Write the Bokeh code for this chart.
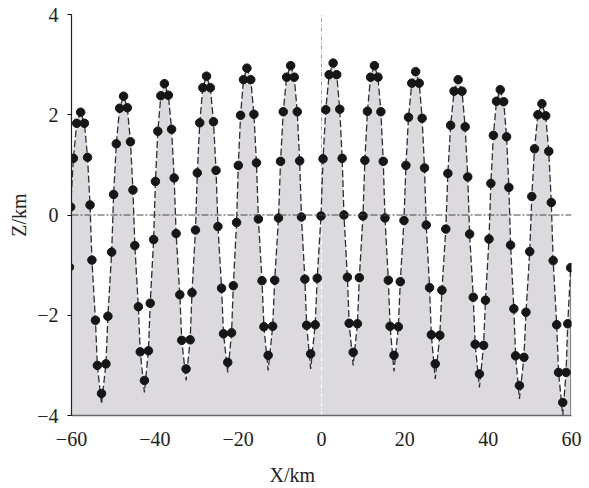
from bokeh.plotting import figure
from bokeh.models import FixedTicker, Span, Title
from bokeh.embed import file_html
from bokeh.resources import INLINE

# ---- data (X/km, Z/km) ----
peak_x = [-57.8, -47.5, -37.7, -27.6, -17.9, -7.4, 2.8, 12.7, 22.6, 32.8, 42.9, 52.9]
peak_z = [2.05, 2.37, 2.62, 2.77, 2.93, 2.98, 3.03, 2.98, 2.86, 2.70, 2.50, 2.22]

trough_x = [-52.8, -42.5, -32.5, -22.5, -12.8, -2.6, 7.6, 17.4, 27.3, 37.9, 47.5, 57.9]
trough_line_z = [-3.77, -3.54, -3.30, -3.14, -3.10, -3.07, -3.00, -3.12, -3.27, -3.44, -3.67, -4.00]
trough_dot_z = [-3.56, -3.30, -3.07, -2.94, -2.80, -2.77, -2.74, -2.80, -2.97, -3.17, -3.40, -3.74]

flank_x = [
    -60.5, -60.2, -59.55, -58.75,
    -56.9, -56.15, -55.55, -55.1, -54.25, -53.8,
    -51.74, -51.26, -50.36, -49.89, -49.25, -48.45,
    -46.6, -45.85, -45.25, -44.8, -43.95, -43.5,
    -41.54, -41.11, -40.29, -39.86, -39.28, -38.56,
    -36.76, -35.98, -35.36, -34.89, -34.01, -33.54,
    -31.52, -31.08, -30.25, -29.81, -29.22, -28.48,
    -26.68, -25.92, -25.31, -24.85, -23.98, -23.52,
    -21.58, -21.17, -20.38, -19.97, -19.42, -18.73,
    -16.98, -16.22, -15.61, -15.15, -14.28, -13.82,
    -11.72, -11.23, -10.32, -9.83, -9.18, -8.37,
    -6.54, -5.82, -5.24, -4.81, -3.99, -3.56,
    -1.52, -1.03, -0.12, 0.37, 1.02, 1.83,
    3.66, 4.38, 4.96, 5.39, 6.21, 6.64,
    8.62, 9.08, 9.95, 10.41, 11.02, 11.78,
    13.55, 14.25, 14.82, 15.24, 16.04, 16.46,
    18.44, 18.91, 19.79, 20.26, 20.88, 21.66,
    23.45, 24.15, 24.72, 25.14, 25.94, 26.36,
    28.40, 28.90, 29.83, 30.33, 30.99, 31.81,
    33.72, 34.48, 35.10, 35.55, 36.42, 36.88,
    38.90, 39.35, 40.20, 40.65, 41.25, 42.00,
    43.73, 44.42, 44.97, 45.38, 46.17, 46.58,
    48.58, 49.07, 49.98, 50.47, 51.12, 51.93,
    53.80, 54.55, 55.15, 55.60, 56.45, 56.90,
    58.70, 59.10, 59.80,
]
flank_z = [
    -1.04, 0.16, 1.13, 1.83,
    1.83, 1.15, 0.20, -0.90, -2.10, -3.00,
    -2.97, -2.02, -0.74, 0.41, 1.42, 2.13,
    2.14, 1.46, 0.50, -0.61, -1.83, -2.73,
    -2.71, -1.76, -0.49, 0.67, 1.67, 2.38,
    2.39, 1.71, 0.74, -0.37, -1.59, -2.50,
    -2.49, -1.55, -0.30, 0.84, 1.84, 2.54,
    2.54, 1.86, 0.89, -0.23, -1.46, -2.37,
    -2.35, -1.41, -0.15, 0.99, 1.99, 2.70,
    2.70, 2.01, 1.04, -0.08, -1.31, -2.23,
    -2.22, -1.30, -0.06, 1.07, 2.06, 2.75,
    2.75, 2.06, 1.08, -0.04, -1.28, -2.20,
    -2.19, -1.26, -0.02, 1.12, 2.10, 2.80,
    2.80, 2.11, 1.13, 0.00, -1.24, -2.16,
    -2.17, -1.25, -0.02, 1.09, 2.07, 2.75,
    2.75, 2.06, 1.07, -0.06, -1.30, -2.22,
    -2.23, -1.33, -0.11, 0.99, 1.95, 2.63,
    2.63, 1.93, 0.94, -0.20, -1.45, -2.39,
    -2.40, -1.50, -0.28, 0.83, 1.79, 2.47,
    2.47, 1.76, 0.76, -0.38, -1.64, -2.58,
    -2.60, -1.70, -0.48, 0.63, 1.59, 2.27,
    2.26, 1.56, 0.55, -0.60, -1.87, -2.81,
    -2.84, -1.94, -0.73, 0.37, 1.32, 2.00,
    1.98, 1.27, 0.25, -0.91, -2.19, -3.14,
    -3.14, -2.17, -1.05,
]

x_ticks = [-60, -40, -20, 0, 20, 40, 60]
x_tick_labels = ["\u221260", "\u221240", "\u221220", "0", "20", "40", "60"]
z_ticks = [-4, -2, 0, 2, 4]
z_tick_labels = ["\u22124", "\u22122", "0", "2", "4"]
x_title = "X/km"
z_title = "Z/km"

# model curve: peaks, trough tips and flank points in X order
pts = sorted(list(zip(peak_x, peak_z)) + list(zip(trough_x, trough_line_z)) + list(zip(flank_x, flank_z)))
curve_x = [a for a, b in pts]
curve_z = [b for a, b in pts]
# inverted points
dot_x = peak_x + trough_x + flank_x
dot_z = peak_z + trough_dot_z + flank_z

FONT = "Liberation Serif"

p = figure(width=585, height=488, x_range=(-60, 60), y_range=(-4, 4),
           output_backend="svg", toolbar_location=None,
           min_border_left=70, min_border_right=14, min_border_top=14, min_border_bottom=73)
p.outline_line_color = None
p.grid.visible = False
p.background_fill_color = "white"

p.varea(x=curve_x, y1=[-4] * len(curve_x), y2=curve_z, fill_color="#dcdadf")
p.line([curve_x[-1], curve_x[-1]], [-4, curve_z[-1]], line_color="#777777", line_width=1)

# reference lines
p.line([0, 0], [-4, 0.25], line_color="white", line_width=1.2, line_dash="4 2 1 2")
p.line([0, 0], [0.25, 4], line_color="#a0a0a0", line_width=1, line_dash="4 2 1 2")
p.add_layout(Span(location=0, dimension="width", line_color="#444444",
                  line_width=1, line_dash="7 2 2 2"))

p.line(curve_x, curve_z, line_color="#2e2e2e", line_width=1.3, line_dash="7 3")
p.scatter(dot_x, dot_z, size=8.5, fill_color="#161616", line_color="#161616")

# axes
xa = p.xaxis[0]
xa.ticker = FixedTicker(ticks=x_ticks)
xa.major_label_overrides = dict(zip(x_ticks, x_tick_labels))
xa.axis_line_color = "#666666"
xa.axis_line_width = 1.5
xa.major_tick_out = 0
xa.major_tick_in = 0
xa.minor_tick_line_color = None
xa.major_label_standoff = 16
xa.major_label_text_font = FONT
xa.major_label_text_font_size = "20px"
xa.major_label_text_color = "#222222"

ya = p.yaxis[0]
ya.ticker = FixedTicker(ticks=z_ticks)
ya.major_label_overrides = dict(zip(z_ticks, z_tick_labels))
ya.axis_line_color = "#222222"
ya.axis_line_width = 1.2
ya.major_tick_out = 4
ya.major_tick_in = 0
ya.minor_tick_line_color = None
ya.major_label_standoff = 9
ya.major_label_text_font = FONT
ya.major_label_text_font_size = "20px"
ya.major_label_text_color = "#222222"

# axis titles as side-panel titles (positioned like the reference);
# a blank spacer title pushes the X title down to the reference's baseline
p.add_layout(Title(text=" ", standoff=2, text_font=FONT, text_font_size="8px",
                   text_color="white"), "below")
p.add_layout(Title(text=x_title, align="left", offset=198, standoff=0,
                   text_font=FONT, text_font_size="20px", text_font_style="normal",
                   text_color="#222222"), "below")
p.add_layout(Title(text=z_title, align="center", offset=3, standoff=10,
                   text_font=FONT, text_font_size="20px", text_font_style="normal",
                   text_color="#222222"), "left")

open("out.html", "w").write(file_html(p, INLINE))
